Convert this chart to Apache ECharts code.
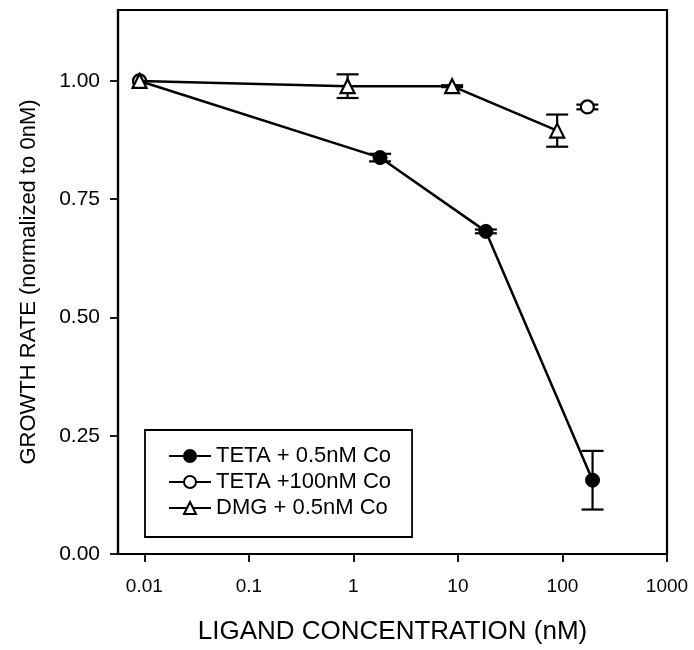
<!DOCTYPE html>
<html>
<head>
<meta charset="utf-8">
<script src="https://cdn.jsdelivr.net/npm/echarts@6/dist/echarts.min.js"></script>
<style>
  html, body { margin: 0; padding: 0; background: #fff; }
  #chart { width: 694px; height: 650px; }
</style>
</head>
<body>
<div id="chart"></div>
<script>
// ---- data ----
const seriesNames = ['TETA + 0.5nM Co', 'TETA +100nM Co', 'DMG + 0.5nM Co'];

const tetaLowX = [0.009, 1.8, 18.5, 194];
const tetaLowY = [1.00, 0.838, 0.682, 0.156];
const tetaLowErr = [0, 0.008, 0.004, 0.062];

const tetaHighX = [0.009, 173];
const tetaHighY = [1.00, 0.945];
const tetaHighErr = [0, 0.005];

const dmgX = [0.009, 0.88, 8.8, 89];
const dmgY = [1.00, 0.989, 0.989, 0.895];
const dmgErr = [0, 0.025, 0.002, 0.034];

const xTickValues = [0.01, 0.1, 1, 10, 100, 1000];
const xTickLabels = ['0.01', '0.1', '1', '10', '100', '1000'];
const yTickValues = [0, 0.25, 0.5, 0.75, 1.0];
const yTickLabels = ['0.00', '0.25', '0.50', '0.75', '1.00'];

// ---- build ----
function pairs(xs, ys) { return xs.map((x, i) => [x, ys[i]]); }
function errRows(xs, ys, es) { return xs.map((x, i) => [x, ys[i], es[i]]).filter(r => r[2] > 0); }

const FONT = '"Liberation Sans", Arial, Helvetica, sans-serif';
const chart = echarts.init(document.getElementById('chart'), null, { renderer: 'canvas' });

function errorSeries(rows) {
  return {
    type: 'custom',
    silent: true,
    z: 1,
    data: rows,
    renderItem: function (params, api) {
      const x = api.value(0), y = api.value(1), e = api.value(2);
      const top = api.coord([x, y + e]);
      const bot = api.coord([x, y - e]);
      const hw = 11;
      const st = { stroke: '#000', lineWidth: 2.2 };
      return {
        type: 'group',
        children: [
          { type: 'line', shape: { x1: top[0], y1: top[1], x2: bot[0], y2: bot[1] }, style: st },
          { type: 'line', shape: { x1: top[0] - hw, y1: top[1], x2: top[0] + hw, y2: top[1] }, style: st },
          { type: 'line', shape: { x1: bot[0] - hw, y1: bot[1], x2: bot[0] + hw, y2: bot[1] }, style: st }
        ]
      };
    }
  };
}

// TETA +100nM points are not joined in the reference: break the line between them
const tetaHighData = [];
pairs(tetaHighX, tetaHighY).forEach((p, i) => { if (i > 0) tetaHighData.push('-'); tetaHighData.push(p); });

const option = {
  backgroundColor: '#fff',
  animation: false,
  textStyle: { fontFamily: FONT, color: '#000' },
  grid: {
    left: 118, right: 27, top: 10, bottom: 95,
    show: true, borderColor: '#000', borderWidth: 2.2, backgroundColor: 'transparent'
  },
  xAxis: {
    type: 'log',
    logBase: 10,
    min: 0.0056,
    max: 1000,
    name: 'LIGAND CONCENTRATION (nM)',
    nameLocation: 'middle',
    nameGap: 65,
    nameTextStyle: { fontFamily: FONT, fontSize: 26, color: '#000' },
    axisLine: { show: true, lineStyle: { color: '#000', width: 2.2 } },
    axisTick: { show: true, inside: false, length: 8, customValues: xTickValues, lineStyle: { color: '#000', width: 1.8 } },
    minorTick: { show: false },
    splitLine: { show: false },
    axisLabel: {
      customValues: xTickValues,
      margin: 23,
      fontFamily: FONT, fontSize: 19, color: '#000',
      formatter: function (v) {
        let best = 0, bd = Infinity;
        xTickValues.forEach((t, i) => { const d = Math.abs(Math.log10(v) - Math.log10(t)); if (d < bd) { bd = d; best = i; } });
        return xTickLabels[best];
      }
    }
  },
  yAxis: {
    type: 'value',
    min: 0,
    max: 1.15,
    name: 'GROWTH RATE (normalized to 0nM)',
    nameLocation: 'middle',
    nameGap: 78,
    nameRotate: 90,
    nameTextStyle: { fontFamily: FONT, fontSize: 22, color: '#000' },
    axisLine: { show: true, lineStyle: { color: '#000', width: 2.2 } },
    axisTick: { show: true, inside: false, length: 8, customValues: yTickValues, lineStyle: { color: '#000', width: 1.8 } },
    splitLine: { show: false },
    axisLabel: {
      customValues: yTickValues,
      margin: 18,
      fontFamily: FONT, fontSize: 21, color: '#000',
      formatter: function (v) {
        let best = 0, bd = Infinity;
        yTickValues.forEach((t, i) => { const d = Math.abs(v - t); if (d < bd) { bd = d; best = i; } });
        return yTickLabels[best];
      }
    }
  },
  legend: {
    show: true,
    orient: 'vertical',
    left: 145,
    top: 430,
    data: seriesNames,
    itemWidth: 42,
    itemHeight: 15,
    itemGap: 4,
    padding: [15, 21, 18, 23],
    borderColor: '#000',
    borderWidth: 1.8,
    backgroundColor: '#fff',
    textStyle: { fontFamily: FONT, fontSize: 22, color: '#000' }
  },
  series: [
    errorSeries(errRows(tetaLowX, tetaLowY, tetaLowErr)),
    errorSeries(errRows(tetaHighX, tetaHighY, tetaHighErr)),
    errorSeries(errRows(dmgX, dmgY, dmgErr)),
    {
      name: seriesNames[0],
      type: 'line',
      z: 3,
      data: pairs(tetaLowX, tetaLowY),
      symbol: 'circle',
      symbolSize: 14,
      showAllSymbol: true,
      lineStyle: { color: '#000', width: 2.5 },
      itemStyle: { color: '#000', borderColor: '#000', borderWidth: 1 }
    },
    {
      name: seriesNames[1],
      type: 'line',
      z: 4,
      data: tetaHighData,
      connectNulls: false,
      symbol: 'circle',
      symbolSize: 13,
      showAllSymbol: true,
      lineStyle: { color: '#000', width: 2.5 },
      itemStyle: { color: '#fff', borderColor: '#000', borderWidth: 2.2 }
    },
    {
      name: seriesNames[2],
      type: 'line',
      z: 5,
      data: pairs(dmgX, dmgY),
      symbol: 'triangle',
      symbolSize: 14,
      showAllSymbol: true,
      lineStyle: { color: '#000', width: 2.5 },
      itemStyle: { color: '#fff', borderColor: '#000', borderWidth: 2.2 }
    }
  ]
};

chart.setOption(option);
</script>
</body>
</html>
